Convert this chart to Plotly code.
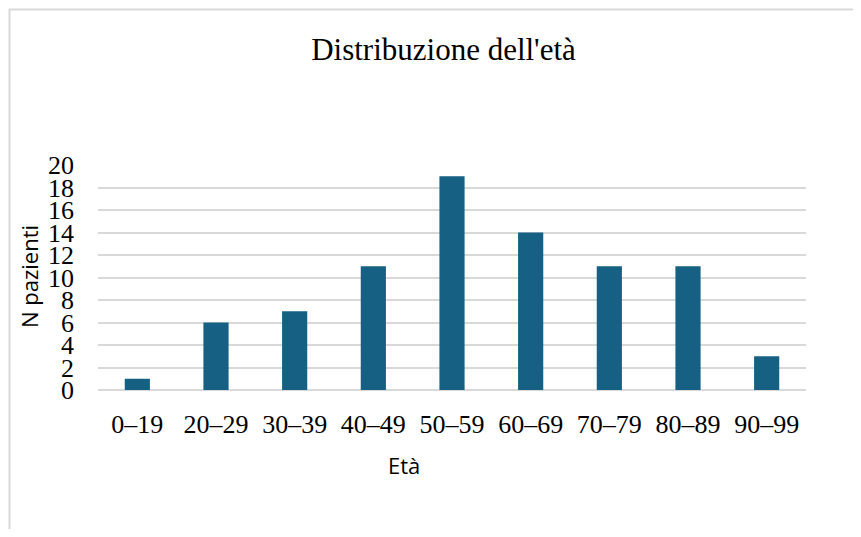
import plotly.graph_objects as go

categories = ["0–19", "20–29", "30–39", "40–49", "50–59", "60–69", "70–79", "80–89", "90–99"]
patients = [1, 6, 7, 11, 19, 14, 11, 11, 3]
y_ticks = list(range(0, 21, 2))

BAR_COLOR = "#166083"
GRID = "#d9d9d9"
SERIF = "Liberation Serif, Times New Roman, serif"
SANS = "Open Sans, Noto Sans, sans-serif"

fig = go.Figure(
    go.Bar(
        x=categories,
        y=patients,
        marker=dict(color=BAR_COLOR, line=dict(width=0)),
    )
)

# page has an 8px body margin; figure origin is at page (8, 8)
OFF = 8
W, H = 853, 521
PX0, PX1, PY0, PY1 = 98, 806, 165, 390  # plot area in page pixels
L, R = PX0 - OFF, W - (PX1 - OFF)
T, B = PY0 - OFF, H - (PY1 - OFF)

def px_x(x):
    return (x - PX0) / (PX1 - PX0)

def px_y(y):
    return (PY1 - y) / (PY1 - PY0)

fig.update_layout(
    width=W,
    height=H,
    margin=dict(l=L, r=R, t=T, b=B, autoexpand=False),
    paper_bgcolor="white",
    plot_bgcolor="white",
    bargap=0.68,
    showlegend=False,
    title=dict(
        text="Distribuzione dell'età",
        font=dict(family=SERIF, size=31, color="#000000"),
        xref="paper",
        x=px_x(443.5),
        xanchor="center",
        y=1 - (49 - OFF) / H,
        yanchor="middle",
    ),
    xaxis=dict(
        tickfont=dict(family=SERIF, size=26, color="#000000"),
        showgrid=False,
        showline=False,
        ticks="",
        ticklabelstandoff=16,
    ),
    yaxis=dict(
        range=[0, 20],
        tickvals=y_ticks,
        tickfont=dict(family=SERIF, size=26, color="#000000"),
        showgrid=True,
        gridcolor=GRID,
        gridwidth=2,
        zeroline=True,
        zerolinecolor=GRID,
        zerolinewidth=2,
        showline=False,
        ticks="",
        ticklabelstandoff=23,
    ),
    annotations=[
        dict(
            text="Età",
            xref="paper",
            yref="paper",
            x=px_x(403.5),
            y=px_y(465),
            xanchor="center",
            yanchor="middle",
            showarrow=False,
            font=dict(family=SANS, size=22, color="#000000"),
        ),
        dict(
            text="N pazienti",
            xref="paper",
            yref="paper",
            x=px_x(29),
            y=px_y(277),
            xanchor="center",
            yanchor="middle",
            textangle=-90,
            showarrow=False,
            font=dict(family=SANS, size=22, color="#000000"),
        ),
    ],
    shapes=[
        dict(
            type="rect",
            xref="paper",
            yref="paper",
            x0=px_x(9.5),
            x1=px_x(900),
            y0=px_y(700),
            y1=px_y(9.5),
            line=dict(color=GRID, width=2),
            fillcolor="rgba(0,0,0,0)",
            layer="below",
        )
    ],
)

fig.write_html("out.html")
